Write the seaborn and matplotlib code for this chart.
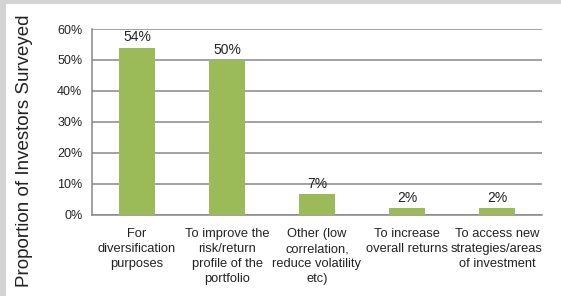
import matplotlib
matplotlib.use("Agg")
import matplotlib.pyplot as plt
import seaborn as sns
import pandas as pd
from matplotlib.ticker import MultipleLocator, PercentFormatter

categories = ["For\ndiversification\npurposes",
              "To improve the\nrisk/return\nprofile of the\nportfolio",
              "Other (low\ncorrelation,\nreduce volatility\netc)",
              "To increase\noverall returns",
              "To access new\nstrategies/areas\nof investment"]
values = [54, 50, 6.5, 2, 2]
labels = ["54%", "50%", "7%", "2%", "2%"]

df = pd.DataFrame({"reason": categories, "share": values})

sns.set_theme(style="white")
plt.rcParams['font.family'] = ['Liberation Sans', 'DejaVu Sans']

fig = plt.figure(figsize=(5.61, 2.96), dpi=100)
fig.patch.set_facecolor("#d4d4d4")
# white panel
fig.add_artist(plt.Rectangle((6 / 561, 0), 1, 1 - 4 / 296, transform=fig.transFigure,
                             facecolor="white", edgecolor="none", zorder=0))

ax = fig.add_axes([92 / 561, 1 - 214.5 / 296, (542 - 92) / 561, (214.5 - 29) / 296])
ax.set_facecolor("white")
sns.barplot(data=df, x="reason", y="share", color="#9bbb59", saturation=1,
            width=0.4, ax=ax, zorder=3, edgecolor="none", linewidth=0)

for i, (v, lab) in enumerate(zip(values, labels)):
    ax.text(i, v + 1.0, lab, ha="center", va="bottom", fontsize=10, color="#222222")

ax.set_ylim(0, 60)
ax.set_xlim(-0.5, 4.5)
ax.yaxis.set_major_locator(MultipleLocator(10))
ax.yaxis.set_major_formatter(PercentFormatter(decimals=0))
ax.grid(axis="y", color="#888888", linewidth=1.1, zorder=0)
ax.set_axisbelow(True)

for s in ["top", "right"]:
    ax.spines[s].set_visible(False)
for s in ["left", "bottom"]:
    ax.spines[s].set_color("#888888")
    ax.spines[s].set_linewidth(1.1)

ax.set_xticks([i + 0.5 for i in range(-1, 5)], minor=True)
ax.tick_params(axis="x", which="major", length=0, labelsize=9.3, pad=10, colors="#222222")
ax.tick_params(axis="x", which="minor", length=4, width=1, color="#888888", direction="out")
ax.tick_params(axis="y", length=4, width=1, color="#888888", labelsize=9, labelcolor="#222222",
               direction="out", pad=3)
for t in ax.get_xticklabels():
    t.set_linespacing(1.32)
    t.set_va("top")

ax.set_xlabel("")
ax.set_ylabel("")
fig.text(25 / 561, 1 - 151 / 296, "Proportion of Investors Surveyed", rotation=90,
         ha="center", va="center", fontsize=13.5, color="#222222")

fig.savefig("out.png", dpi=100, facecolor=fig.get_facecolor())
